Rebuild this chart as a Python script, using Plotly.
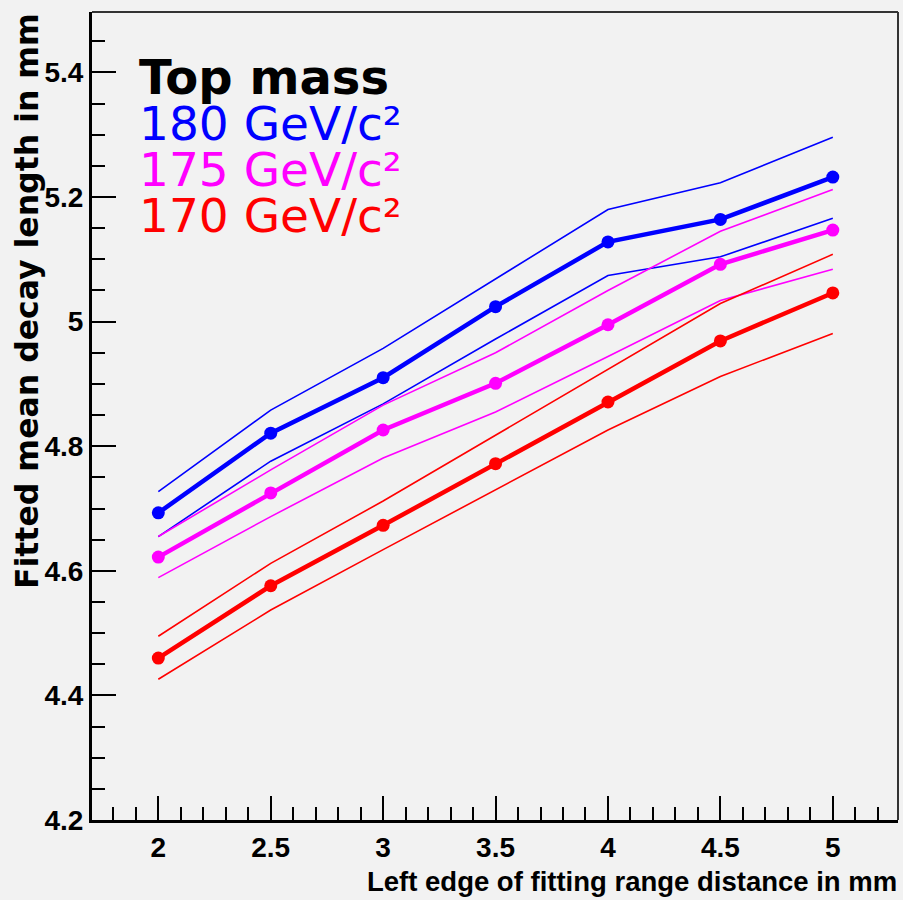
import plotly.graph_objects as go

# ---- data ----
x_edge = [2.0, 2.5, 3.0, 3.5, 4.0, 4.5, 5.0]

blue_c = [4.693, 4.821, 4.910, 5.024, 5.128, 5.164, 5.232]
blue_hi = [4.727, 4.858, 4.957, 5.068, 5.180, 5.223, 5.296]
blue_lo = [4.655, 4.776, 4.868, 4.972, 5.074, 5.104, 5.166]

mag_c = [4.622, 4.725, 4.826, 4.901, 4.995, 5.092, 5.147]
mag_hi = [4.655, 4.762, 4.866, 4.950, 5.050, 5.145, 5.212]
mag_lo = [4.589, 4.687, 4.781, 4.855, 4.944, 5.034, 5.084]

red_c = [4.460, 4.576, 4.673, 4.772, 4.871, 4.969, 5.046]
red_hi = [4.495, 4.612, 4.712, 4.818, 4.923, 5.029, 5.108]
red_lo = [4.426, 4.537, 4.634, 4.730, 4.826, 4.912, 4.981]

legend_title = "Top mass"
legend_labels = ["180 GeV/c²", "175 GeV/c²", "170 GeV/c²"]
colors = ["#0000ff", "#ff00ff", "#ff0000"]

x_title = "Left edge of fitting range distance in mm"
y_title = "Fitted mean decay length in mm"

# ---- figure ----
W, H = 903, 900
ML, MR, MT, MB = 92, 5, 12, 80
PW, PH = W - ML - MR, H - MT - MB

def px_x(p):
    return (p - ML) / PW

def px_y(p):
    return 1 - (p - MT) / PH

fig = go.Figure()

series = [
    (blue_c, blue_hi, blue_lo, colors[0]),
    (mag_c, mag_hi, mag_lo, colors[1]),
    (red_c, red_hi, red_lo, colors[2]),
]

for c, hi, lo, col in series:
    for band in (hi, lo):
        fig.add_trace(go.Scatter(x=x_edge, y=band, mode="lines",
                                 line=dict(color=col, width=1.6),
                                 showlegend=False, hoverinfo="skip"))
for c, hi, lo, col in series:
    fig.add_trace(go.Scatter(x=x_edge, y=c, mode="lines+markers",
                             line=dict(color=col, width=4.5),
                             marker=dict(color=col, size=13, symbol="circle"),
                             showlegend=False))

tickfont = dict(family="Liberation Sans, Arial, sans-serif",
                size=28, color="black", weight="bold")

fig.update_xaxes(range=[1.705, 5.29], tick0=2, dtick=0.5, ticks="inside",
                 ticklen=24, tickwidth=2, tickcolor="black",
                 showline=True, linewidth=3, linecolor="black",
                 showgrid=False, zeroline=False, tickfont=tickfont,
                 minor=dict(dtick=0.1, tick0=2, ticks="inside", ticklen=13,
                            tickwidth=2, tickcolor="black", showgrid=False))
fig.update_yaxes(range=[4.2, 5.497], tick0=4.2, dtick=0.2, ticks="inside",
                 ticklen=24, tickwidth=2, tickcolor="black",
                 showline=True, linewidth=3, linecolor="black",
                 showgrid=False, zeroline=False, tickfont=tickfont,
                 minor=dict(dtick=0.05, tick0=4.2, ticks="inside", ticklen=13,
                            tickwidth=2, tickcolor="black", showgrid=False))

# frame top/right
fig.add_shape(type="line", xref="paper", yref="paper", x0=0, x1=1, y0=1, y1=1,
              line=dict(color="#333333", width=2))
fig.add_shape(type="line", xref="paper", yref="paper", x0=1, x1=1, y0=0, y1=1,
              line=dict(color="#333333", width=2))

ann = []
ann.append(dict(text=legend_title, xref="paper", yref="paper",
                x=px_x(137), y=px_y(77), xanchor="left", yanchor="middle",
                showarrow=False,
                font=dict(family="DejaVu Sans", size=48, color="black", weight="bold")))
for i, (lab, col) in enumerate(zip(legend_labels, colors)):
    ann.append(dict(text=lab, xref="paper", yref="paper",
                    x=px_x(137), y=px_y(123 + 46 * i), xanchor="left", yanchor="middle",
                    showarrow=False,
                    font=dict(family="DejaVu Sans", size=47, color=col)))
ann.append(dict(text=x_title, xref="paper", yref="paper",
                x=px_x(899), y=px_y(881), xanchor="right", yanchor="middle",
                showarrow=False,
                font=dict(family="Liberation Sans, Arial, sans-serif",
                          size=27.5, color="black", weight="bold")))
ann.append(dict(text=y_title, xref="paper", yref="paper", textangle=-90,
                x=px_x(27), y=px_y(11), xanchor="center", yanchor="top",
                showarrow=False,
                font=dict(family="DejaVu Sans, sans-serif",
                          size=31.5, color="black", weight="bold")))

fig.update_layout(width=W, height=H, margin=dict(l=ML, r=MR, t=MT, b=MB),
                  paper_bgcolor="#f2f2f2", plot_bgcolor="#f2f2f2",
                  showlegend=False, annotations=ann)

fig.write_html("out.html")
